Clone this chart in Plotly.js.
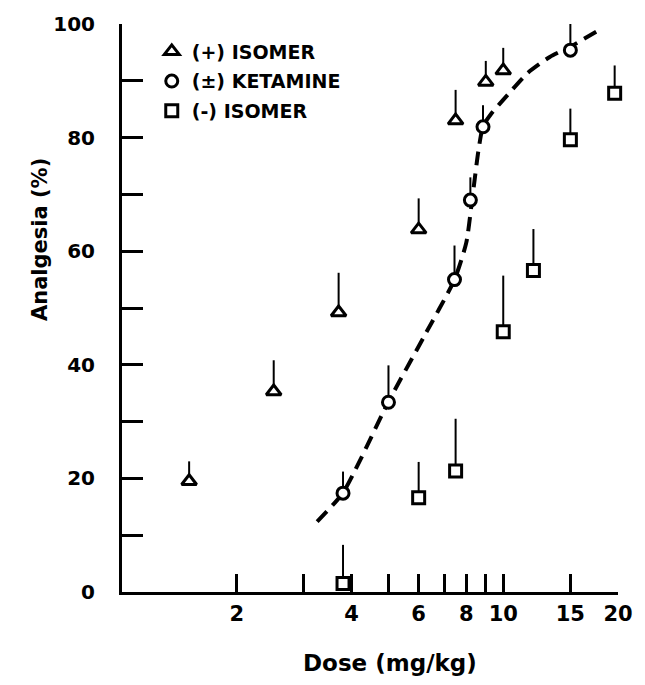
<!DOCTYPE html>
<html>
<head>
<meta charset="utf-8">
<script src="https://cdn.plot.ly/plotly-3.0.1.min.js"></script>
<style>html,body{margin:0;padding:0;background:#fff;}#chart{width:645px;height:685px;}</style>
</head>
<body>
<div id="chart"></div>
<script>
// Tick labels
const doseTickVals = [2, 3, 4, 5, 6, 7, 8, 9, 10, 15, 20];
const doseTickText = ['2', '', '4', '', '6', '', '8', '', '10', '15', '20'];

// (+) isomer
const plusDose = [1.5, 2.5, 3.7, 6, 7.5, 9, 10];
const plusAnalgesia = [19.5, 35.3, 49.2, 63.8, 83, 89.8, 91.8];
const plusErr = [3.5, 5.5, 7, 5.5, 5.4, 3.7, 4];

// (±) ketamine
const racemicDose = [3.8, 5.0, 7.45, 8.2, 8.85, 15];
const racemicAnalgesia = [17.4, 33.4, 55, 69, 81.9, 95.4];
const racemicErr = [3.8, 6.5, 6, 4, 3.8, 4.6];

// (-) isomer
const minusDose = [3.8, 6, 7.5, 10, 12, 15, 19.6];
const minusAnalgesia = [1.5, 16.6, 21.3, 45.8, 56.6, 79.6, 87.8];
const minusErr = [6.8, 6.3, 9.2, 9.9, 7.3, 5.5, 4.9];

// fitted dashed curve for (±) ketamine
const curveDose = [3.25, 3.8, 5.0, 6.2, 7.45, 8.0, 8.25, 8.6, 8.85, 9.3, 10.2, 11.6, 13.25, 15, 18];
const curveAnalgesia = [12.4, 17.5, 33.5, 45, 55, 61.5, 68, 77.5, 82, 84.2, 87.3, 91.4, 94.2, 96, 99.1];

const legendNames = ['(+) ISOMER', '(±) KETAMINE', '(-) ISOMER'];

const FONT = 'DejaVu Sans, Liberation Sans, Arial, sans-serif';

function zeros(n) { return new Array(n).fill(0); }

function markerTrace(x, y, err, symbol, size, name, group) {
  return {
    type: 'scatter', mode: 'markers', x: x, y: y, name: name,
    legendgroup: group,
    cliponaxis: false,
    marker: { symbol: symbol, size: size, color: '#ffffff', line: { color: '#000000', width: 3 } },
    error_y: { type: 'data', symmetric: false, array: err, arrayminus: zeros(err.length),
               width: 0, thickness: 2, color: '#000000' }
  };
}

const traces = [
  { type: 'scatter', mode: 'lines', x: curveDose, y: curveAnalgesia, showlegend: false,
    cliponaxis: false,
    line: { color: '#000000', width: 4, dash: '14px,8px', shape: 'spline', smoothing: 0.6 } },
  markerTrace(plusDose, plusAnalgesia, plusErr, 'triangle-up', 13, legendNames[0], 'a'),
  markerTrace(racemicDose, racemicAnalgesia, racemicErr, 'circle', 12, legendNames[1], 'b'),
  markerTrace(minusDose, minusAnalgesia, minusErr, 'square', 12, legendNames[2], 'c')
];

const layout = {
  width: 645, height: 685,
  margin: { l: 122, r: 27, t: 24, b: 93 },
  paper_bgcolor: '#ffffff', plot_bgcolor: '#ffffff',
  font: { family: FONT, color: '#000000' },
  showlegend: true,
  legend: {
    x: 0.06, y: 0.985, xanchor: 'left', yanchor: 'top',
    bgcolor: 'rgba(0,0,0,0)', borderwidth: 0,
    traceorder: 'grouped', tracegroupgap: 2,
    font: { family: FONT, size: 19, weight: 'bold', color: '#000000' }
  },
  xaxis: {
    type: 'log', range: [0, Math.log10(20)],
    showline: true, linewidth: 3, linecolor: '#000000',
    showgrid: false, zeroline: false,
    ticks: 'inside', ticklen: 18, tickwidth: 3, tickcolor: '#000000',
    tickmode: 'array', tickvals: doseTickVals, ticktext: doseTickText,
    ticklabelstandoff: 1,
    tickfont: { family: FONT, size: 21, weight: 'bold', color: '#000000' }
  },
  yaxis: {
    range: [0, 100], tick0: 0, dtick: 20,
    showline: true, linewidth: 3, linecolor: '#000000',
    showgrid: false, zeroline: false,
    ticks: 'inside', ticklen: 21, tickwidth: 3, tickcolor: '#000000',
    minor: { dtick: 10, ticks: 'inside', ticklen: 21, tickwidth: 3, tickcolor: '#000000', showgrid: false },
    ticklabelstandoff: 20,
    tickfont: { family: FONT, size: 20, weight: 'bold', color: '#000000' }
  },
  annotations: [
    { text: 'Dose (mg/kg)', xref: 'paper', yref: 'paper', x: 0.54, y: -0.125,
      xanchor: 'center', yanchor: 'middle', showarrow: false,
      font: { family: FONT, size: 23, weight: 'bold', color: '#000000' } },
    { text: 'Analgesia (%)', xref: 'paper', yref: 'paper', x: -0.165, y: 0.62,
      xanchor: 'center', yanchor: 'middle', showarrow: false, textangle: -90,
      font: { family: FONT, size: 21, weight: 'bold', color: '#000000' } }
  ]
};

Plotly.newPlot('chart', traces, layout, { displayModeBar: false, staticPlot: true });
</script>
</body>
</html>
